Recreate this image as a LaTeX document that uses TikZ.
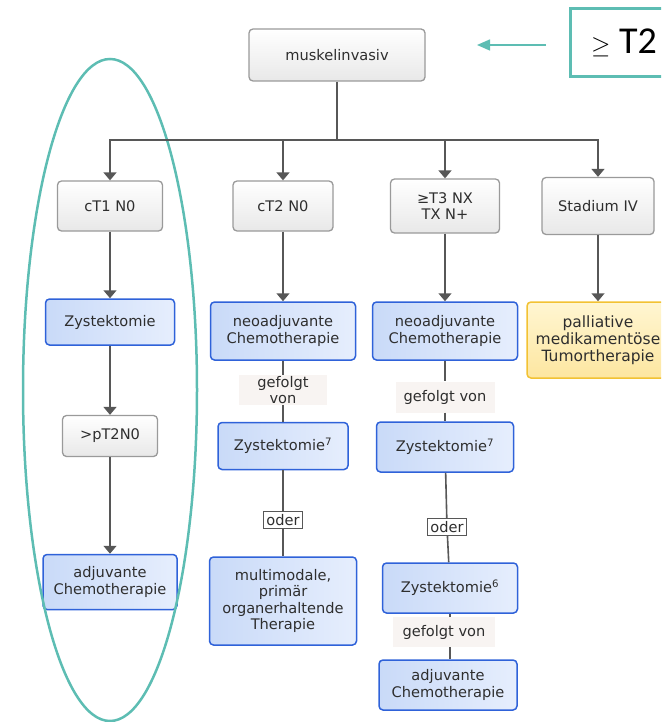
\documentclass[tikz,border=0pt]{standalone}
\usepackage{xcolor}
\usepackage{fontspec}
\setmainfont{DejaVu Sans}
\newfontfamily\calibfont{Carlito}
\usepackage{tikz}
\usetikzlibrary{arrows.meta,positioning}

\definecolor{randgrau}{HTML}{9A9A9A}
\definecolor{randblau}{HTML}{2F62D9}
\definecolor{blauhell}{HTML}{E6EEFD}
\definecolor{blaudunkel}{HTML}{C9DAF8}
\definecolor{randgelb}{HTML}{F2C233}
\definecolor{gelbhell}{HTML}{FFF6D2}
\definecolor{gelbdunkel}{HTML}{FDE6A0}
\definecolor{tuerkis}{HTML}{5DBDB3}
\definecolor{liniengrau}{HTML}{575757}
\definecolor{schrift}{HTML}{2E2E2E}
\definecolor{labelgrund}{HTML}{F8F4F2}

\tikzset{
  grau/.style={draw=randgrau, line width=1.3pt, rounded corners=4pt, top color=white, bottom color=black!9, align=center, text=schrift, minimum width=100pt, minimum height=50pt},
  blau/.style={draw=randblau, line width=1.5pt, rounded corners=4pt, left color=blaudunkel, right color=blauhell, align=center, text=schrift},
  gelb/.style={draw=randgelb, line width=1.5pt, rounded corners=4pt, top color=gelbhell, bottom color=gelbdunkel, align=center, text=schrift},
  folgt/.style={fill=labelgrund, align=center, text=schrift, inner sep=1pt},
  oderbox/.style={draw=liniengrau, line width=1pt, fill=white, text=schrift, inner sep=2pt, minimum width=39pt, minimum height=17pt},
  linie/.style={draw=liniengrau, line width=1.6pt},
  pfeil/.style={linie, -{Triangle[width=13pt,length=8pt]}}
}

\begin{document}
\begin{tikzpicture}[x=1pt, y=-1pt, font=\fontsize{14.6}{16.5}\selectfont]
    \clip (0,0) rectangle (661,722);

    \node (musk) [grau, minimum width=176pt, minimum height=52pt] at (337,55) {muskelinvasiv};
    \node (t2) [draw=tuerkis, line width=3pt, minimum width=108pt, minimum height=68pt, font=\calibfont\fontsize{38}{40}\selectfont] at (624,43) {$\geq$ T2};
    \coordinate (hinweisA) at (546,45);
    \coordinate (hinweisB) at (477,45);
    \coordinate (bus) at (337,140);

    \node (ct1) [grau, minimum width=105pt] at (110,206) {cT1 N0};
    \node (ct2) [grau] at (283,206) {cT2 N0};
    \node (ct3) [grau, minimum width=109pt, minimum height=54pt] at (445,206) {≥T3 NX\\TX N+};
    \node (st4) [grau, minimum width=112pt, minimum height=57pt] at (598,206) {Stadium IV};

    \node (zyst1) [blau, minimum width=129pt, minimum height=46pt, below of=ct1, node distance=116pt] {Zystektomie};
    \node (pt2) [grau, minimum width=95pt, minimum height=41pt, below of=zyst1, node distance=114pt] {>pT2N0};
    \node (adj1) [blau, minimum width=134pt, minimum height=55pt, below of=pt2, node distance=146pt] {adjuvante\\Chemotherapie};

    \node (neo2) [blau, minimum width=145pt, minimum height=58pt, below of=ct2, node distance=125pt] {neoadjuvante\\Chemotherapie};
    \node (gef2) [folgt, minimum width=88pt, minimum height=30pt, below of=neo2, node distance=59pt] {gefolgt\\von};
    \node (zy72) [blau, minimum width=130pt, minimum height=47pt, below of=gef2, node distance=56pt] {Zystektomie\textsuperscript{7}};
    \node (oder2) [oderbox, below of=zy72, node distance=74pt] {oder};
    \node (multi) [blau, minimum width=147pt, minimum height=88pt, below of=oder2, node distance=81pt] {multimodale,\\primär\\organerhaltende\\Therapie};

    \node (neo3) [blau, minimum width=145pt, minimum height=58pt, below of=ct3, node distance=125pt] {neoadjuvante\\Chemotherapie};
    \node (gef3) [folgt, minimum width=99pt, minimum height=31pt, below of=neo3, node distance=66pt] {gefolgt von};
    \node (zy73) [blau, minimum width=137pt, minimum height=50pt, below of=gef3, node distance=50pt] {Zystektomie\textsuperscript{7}};
    \node (oder3) [oderbox, below of=zy73, node distance=80pt, xshift=2pt] {oder};
    \node (zy6) [blau, minimum width=135pt, minimum height=50pt, below of=oder3, node distance=61pt, xshift=3pt] {Zystektomie\textsuperscript{6}};
    \node (gef4) [folgt, minimum width=102pt, minimum height=30pt, below of=zy6, node distance=44pt, xshift=-6pt] {gefolgt von};
    \node (adj3) [blau, minimum width=138pt, minimum height=50pt, below of=gef4, node distance=53pt, xshift=4pt] {adjuvante\\Chemotherapie};

    \node (pall) [gelb, minimum width=142pt, minimum height=76pt, font=\fontsize{15.5}{17}\selectfont, below of=st4, node distance=134pt] {palliative\\medikamentöse\\Tumortherapie};

    \draw[tuerkis, line width=2.5pt] (110,390) ellipse [x radius=87, y radius=331];
    \draw[tuerkis, line width=1.4pt, -{Triangle[width=11pt,length=13pt]}] (hinweisA) -- (hinweisB);

    \draw[linie] (musk) -- (bus);
    \draw[pfeil] (bus) -| (ct1);
    \draw[pfeil] (bus) -| (ct2);
    \draw[pfeil] (bus) -| (ct3);
    \draw[pfeil] (bus) -| (st4);

    \draw[pfeil] (ct1) -- (zyst1);
    \draw[pfeil] (zyst1) -- (pt2);
    \draw[pfeil] (pt2) -- (adj1);

    \draw[pfeil] (ct2) -- (neo2);
    \draw[linie] (neo2) -- (gef2);
    \draw[linie] (gef2) -- (zy72);
    \draw[linie] (zy72) -- (oder2);
    \draw[linie] (oder2) -- (multi);

    \draw[pfeil] (ct3) -- (neo3);
    \draw[linie] (neo3) -- (gef3);
    \draw[linie] (gef3) -- (zy73);
    \draw[linie] (zy73) -- (oder3);
    \draw[linie] (oder3) -- (zy6);
    \draw[linie] (zy6.south) -- (zy6.south |- gef4.north);
    \draw[linie] (gef4.south -| zy6) -- (adj3.north -| zy6);

    \draw[pfeil] (st4) -- (pall);
\end{tikzpicture}
\end{document}
